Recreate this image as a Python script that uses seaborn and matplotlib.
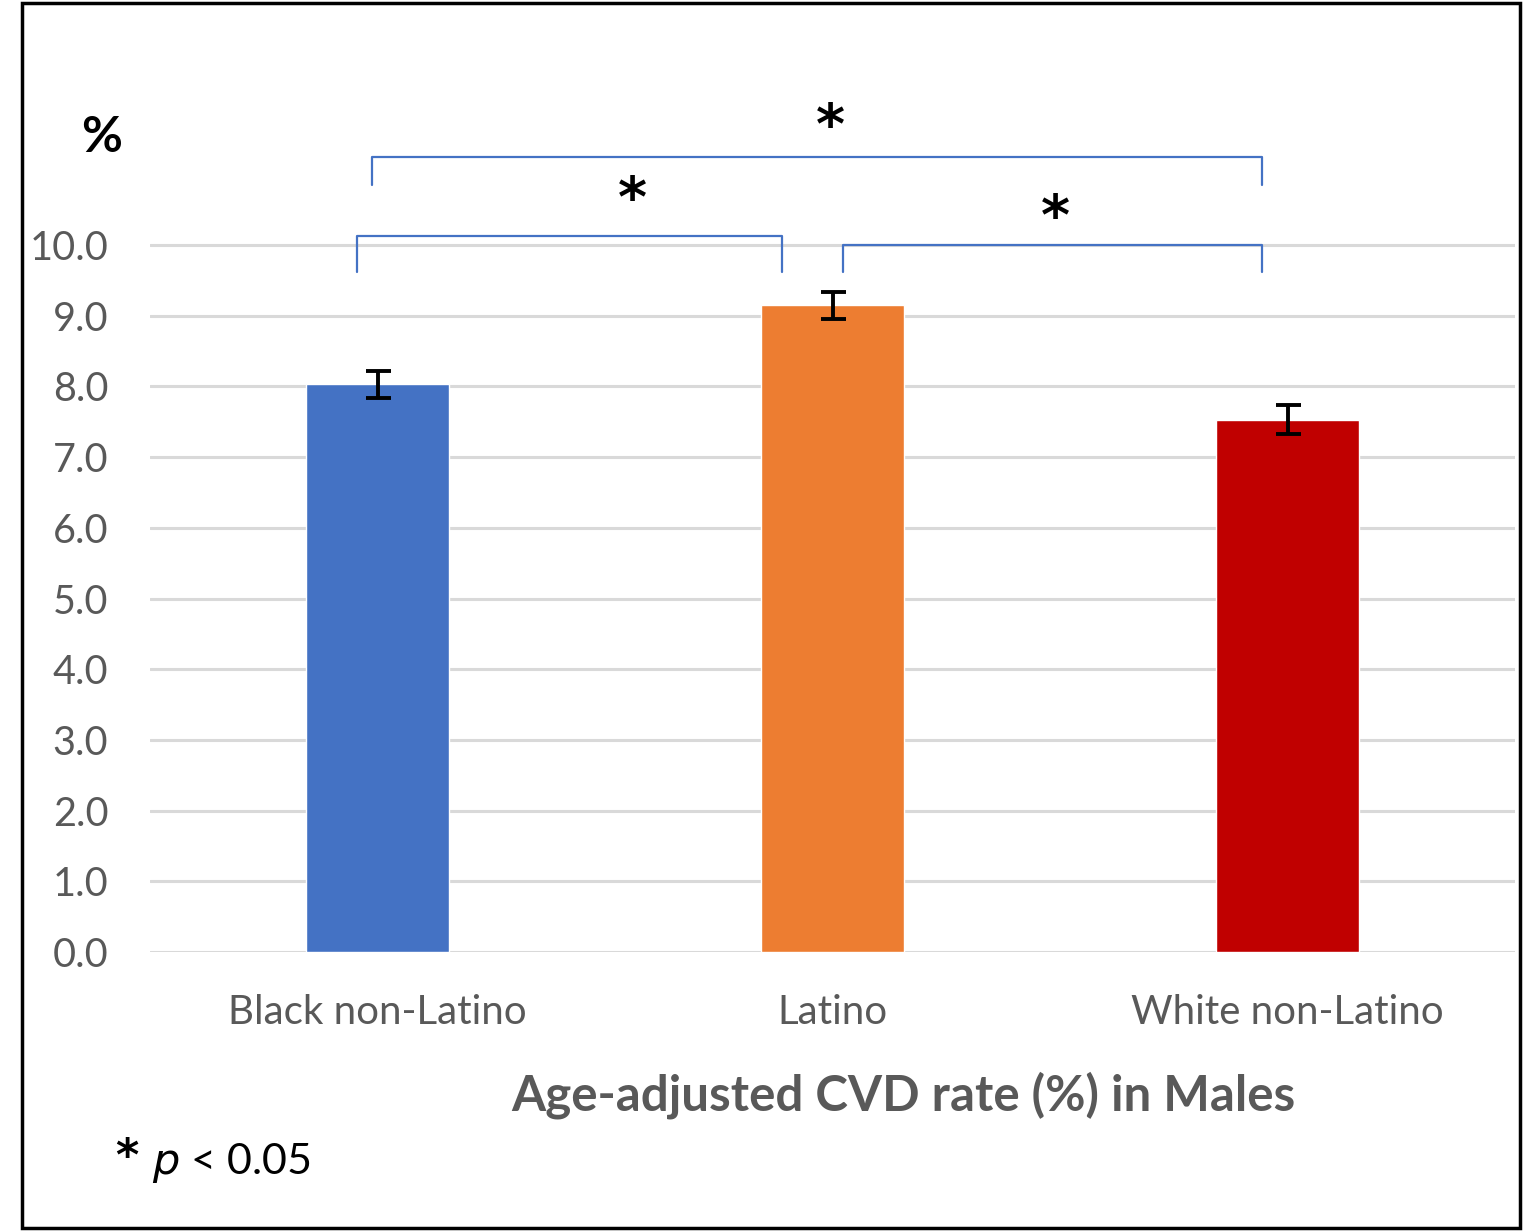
import matplotlib
matplotlib.use("Agg")
import matplotlib.pyplot as plt
import seaborn as sns
import pandas as pd
from matplotlib.patches import Rectangle

categories = ["Black non-Latino", "Latino", "White non-Latino"]
values = [8.03, 9.15, 7.53]
errors = [0.19, 0.19, 0.20]
colors = ["#4472C4", "#ED7D31", "#C00000"]
yticks = [0, 1, 2, 3, 4, 5, 6, 7, 8, 9, 10]
# significance brackets: (x_left, x_right, y_top, y_leg)
brackets = [(-0.044, 0.89, 10.13, 9.62), (1.024, 1.943, 10.0, 9.62), (-0.013, 1.945, 11.24, 10.85)]
stars = [(0.56, 10.62), (1.49, 10.37), (0.996, 11.66)]

sns.set_theme(style="white")
plt.rcParams['font.family'] = ['Lato', 'DejaVu Sans']

W, H = 1535, 1231
fig = plt.figure(figsize=(W / 100, H / 100), dpi=100)
ax_left, ax_right = 150 / W, 1515 / W
ax_bottom = 1 - 952 / H
ax_top = 1 - 90 / H
ax = fig.add_axes([ax_left, ax_bottom, ax_right - ax_left, ax_top - ax_bottom])

df = pd.DataFrame({"cat": categories, "val": values})
sns.barplot(data=df, x="cat", y="val", hue="cat", palette=colors, width=0.316,
            legend=False, ax=ax, saturation=1, zorder=2)
ax.errorbar(range(len(values)), values, yerr=errors, fmt="none", ecolor="black",
            elinewidth=2.8, capsize=9, capthick=2.8, zorder=3)

px_per_unit = (952 - 245) / 10
ax.set_ylim(0, (952 - 90) / px_per_unit)
ax.set_xlim(-0.5, 2.5)
ax.set_yticks(yticks)
ax.set_yticklabels([f"{v:.1f}" for v in yticks])
ax.yaxis.grid(True, color="#D9D9D9", linewidth=2.2, zorder=0)
ax.set_axisbelow(True)
for s in ax.spines.values():
    s.set_visible(False)
ax.tick_params(axis="y", length=0, pad=30, labelsize=28.5, labelcolor="#595959")
ax.tick_params(axis="x", length=0, pad=30, labelsize=29, labelcolor="#595959")
ax.set_xlabel("")
ax.set_ylabel("")

for xl, xr, yt, yl in brackets:
    ax.plot([xl, xl, xr, xr], [yl, yt, yt, yl], color="#4472C4", linewidth=1.6,
            clip_on=False, zorder=4)
for sx, sy in stars:
    ax.text(sx, sy, "*", ha="center", va="center", fontsize=40, fontweight="bold",
            color="black", family=["DejaVu Sans"])

fig.text(102 / W, 1 - 138 / H, "%", ha="center", va="center", fontsize=36,
         fontweight="bold", color="black")
fig.text(903 / W, 1 - 1095 / H, "Age-adjusted CVD rate (%) in Males", ha="center",
         va="center", fontsize=35.5, fontweight="bold", color="#595959")
fig.text(115 / W, 1 - 1158 / H, "*", ha="left", va="center", fontsize=32,
         fontweight="bold", color="black", family=["DejaVu Sans"])
fig.text(152 / W, 1 - 1163 / H, r"$\it{p}$ < 0.05", ha="left", va="center",
         fontsize=31, color="black")

fig.patches.append(Rectangle((22 / W, 1 - 1228 / H), (1520 - 22) / W, (1228 - 3) / H,
                             transform=fig.transFigure, fill=False, edgecolor="black",
                             linewidth=2.5))
fig.savefig("out.png", dpi=100)
